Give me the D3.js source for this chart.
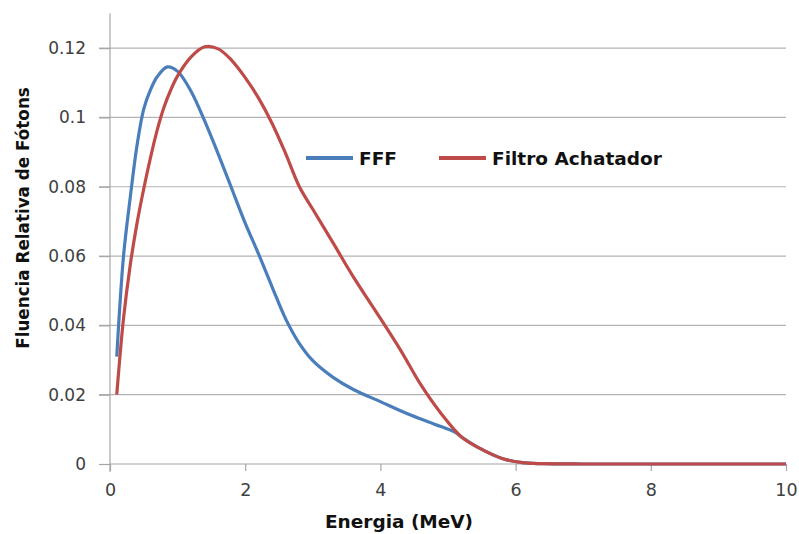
<!DOCTYPE html>
<html>
<head>
<meta charset="utf-8">
<script src="https://cdn.jsdelivr.net/npm/d3@7"></script>
<style>
  html, body { margin: 0; padding: 0; background: #ffffff; }
  svg { display: block; }
</style>
</head>
<body>
<svg id="chart" width="799" height="534"></svg>
<script>
// ---- data ----
const seriesNames = ["FFF", "Filtro Achatador"];
const fffEnergy = [0.1,0.2,0.3,0.4,0.5,0.6,0.7,0.85,1.0,1.2,1.4,1.6,1.8,2.0,2.2,2.4,2.6,2.8,3.0,3.3,3.6,4.0,4.4,4.8,5.1,5.2,5.5,5.8,6.1,6.4,7,8,9,10];
const fffValues = [0.031,0.060,0.077,0.092,0.1025,0.108,0.1118,0.1146,0.1133,0.1075,0.099,0.0895,0.0795,0.0695,0.0605,0.051,0.0418,0.0348,0.0298,0.025,0.0215,0.018,0.0145,0.0115,0.0092,0.0078,0.0042,0.0016,0.0004,0.0001,0,0,0,0];
const filtroEnergy = [0.1,0.2,0.3,0.4,0.5,0.6,0.7,0.8,0.9,1.0,1.2,1.4,1.6,1.8,2.0,2.2,2.4,2.6,2.8,3.0,3.3,3.6,4.0,4.3,4.6,4.9,5.2,5.5,5.8,6.1,6.4,7,8,9,10];
const filtroValues = [0.020,0.042,0.0575,0.0695,0.0795,0.0885,0.0965,0.103,0.108,0.112,0.1175,0.1204,0.1198,0.1165,0.1115,0.1055,0.0982,0.0895,0.0801,0.0735,0.0638,0.054,0.042,0.0328,0.0228,0.0145,0.0078,0.0042,0.0016,0.0004,0.0001,0,0,0,0];
const xTicks = [0, 2, 4, 6, 8, 10];
const yTicks = [0, 0.02, 0.04, 0.06, 0.08, 0.1, 0.12];
const yTickLabels = ["0", "0.02", "0.04", "0.06", "0.08", "0.1", "0.12"];
const xTitle = "Energia (MeV)";
const yTitle = "Fluencia Relativa de Fótons";

// ---- layout ----
const svg = d3.select("#chart");
const x = d3.scaleLinear().domain([0, 10]).range([110, 786]);
const y = d3.scaleLinear().domain([0, 0.13]).range([464, 13.5]);
const gridColor = "#b3b3b3";
const axisColor = "#a6a6a6";
const labelColor = "#404040";
const colors = ["#4a7ebb", "#be4b48"];

// gridlines (y)
svg.append("g")
  .selectAll("line")
  .data(yTicks.filter(d => d > 0))
  .join("line")
  .attr("x1", 99).attr("x2", x(10))
  .attr("y1", d => y(d)).attr("y2", d => y(d))
  .attr("stroke", gridColor).attr("stroke-width", 1.2);

// y axis
const yAxis = d3.axisLeft(y).tickValues(yTicks).tickSize(11).tickPadding(13)
  .tickFormat((d, i) => yTickLabels[i]);
const gy = svg.append("g").attr("transform", `translate(${x(0)},0)`).call(yAxis);
gy.select(".domain").remove();
gy.selectAll(".tick line").attr("stroke", axisColor).attr("stroke-width", 1.2);
gy.selectAll(".tick text")
  .attr("fill", labelColor)
  .style("font-family", "'DejaVu Sans', Verdana, sans-serif")
  .style("font-size", "17px");
svg.append("line")
  .attr("x1", x(0)).attr("x2", x(0))
  .attr("y1", y(0.13)).attr("y2", y(0) + 8)
  .attr("stroke", axisColor).attr("stroke-width", 1.2);

// x axis
const xAxis = d3.axisBottom(x).tickValues(xTicks).tickSize(7).tickPadding(13)
  .tickFormat(d3.format("d"));
const gx = svg.append("g").attr("transform", `translate(0,${y(0)})`).call(xAxis);
gx.select(".domain").attr("stroke", axisColor).attr("stroke-width", 1.2)
  .attr("d", `M${x(0)},0H${x(10)}`);
gx.selectAll(".tick line").attr("stroke", axisColor).attr("stroke-width", 1.2);
gx.selectAll(".tick text")
  .attr("fill", labelColor)
  .style("font-family", "'DejaVu Sans', Verdana, sans-serif")
  .style("font-size", "17.5px");

// lines
const line = d3.line()
  .x(d => x(d[0]))
  .y(d => y(Math.max(0, d[1])))
  .curve(d3.curveCatmullRom.alpha(0.5));
const fffData = fffEnergy.map((e, i) => [e, fffValues[i]]);
const filtroData = filtroEnergy.map((e, i) => [e, filtroValues[i]]);
svg.append("path").datum(fffData)
  .attr("d", line).attr("fill", "none")
  .attr("stroke", colors[0]).attr("stroke-width", 3.2)
  .attr("stroke-linejoin", "round");
svg.append("path").datum(filtroData)
  .attr("d", line).attr("fill", "none")
  .attr("stroke", colors[1]).attr("stroke-width", 3.2)
  .attr("stroke-linejoin", "round");

// legend
const legend = svg.append("g");
const legendItems = [
  { name: seriesNames[0], color: colors[0], x0: 306 },
  { name: seriesNames[1], color: colors[1], x0: 439 }
];
legendItems.forEach(it => {
  legend.append("line")
    .attr("x1", it.x0).attr("x2", it.x0 + 47)
    .attr("y1", 158).attr("y2", 158)
    .attr("stroke", it.color).attr("stroke-width", 4);
  legend.append("text")
    .attr("x", it.x0 + 53).attr("y", 164.5)
    .attr("fill", "#111")
    .style("font-family", "'DejaVu Sans', Verdana, sans-serif")
    .style("font-weight", "bold")
    .style("font-size", "18.5px")
    .text(it.name);
});

// axis titles
svg.append("text")
  .attr("x", 399).attr("y", 528)
  .attr("text-anchor", "middle")
  .attr("fill", "#111")
  .style("font-family", "'DejaVu Sans', Verdana, sans-serif")
  .style("font-weight", "bold")
  .style("font-size", "18.5px")
  .text(xTitle);
svg.append("text")
  .attr("transform", "translate(29,218) rotate(-90)")
  .attr("text-anchor", "middle")
  .attr("fill", "#111")
  .style("font-family", "'DejaVu Sans', Verdana, sans-serif")
  .style("font-weight", "bold")
  .style("font-size", "16.8px")
  .text(yTitle);
</script>
</body>
</html>
